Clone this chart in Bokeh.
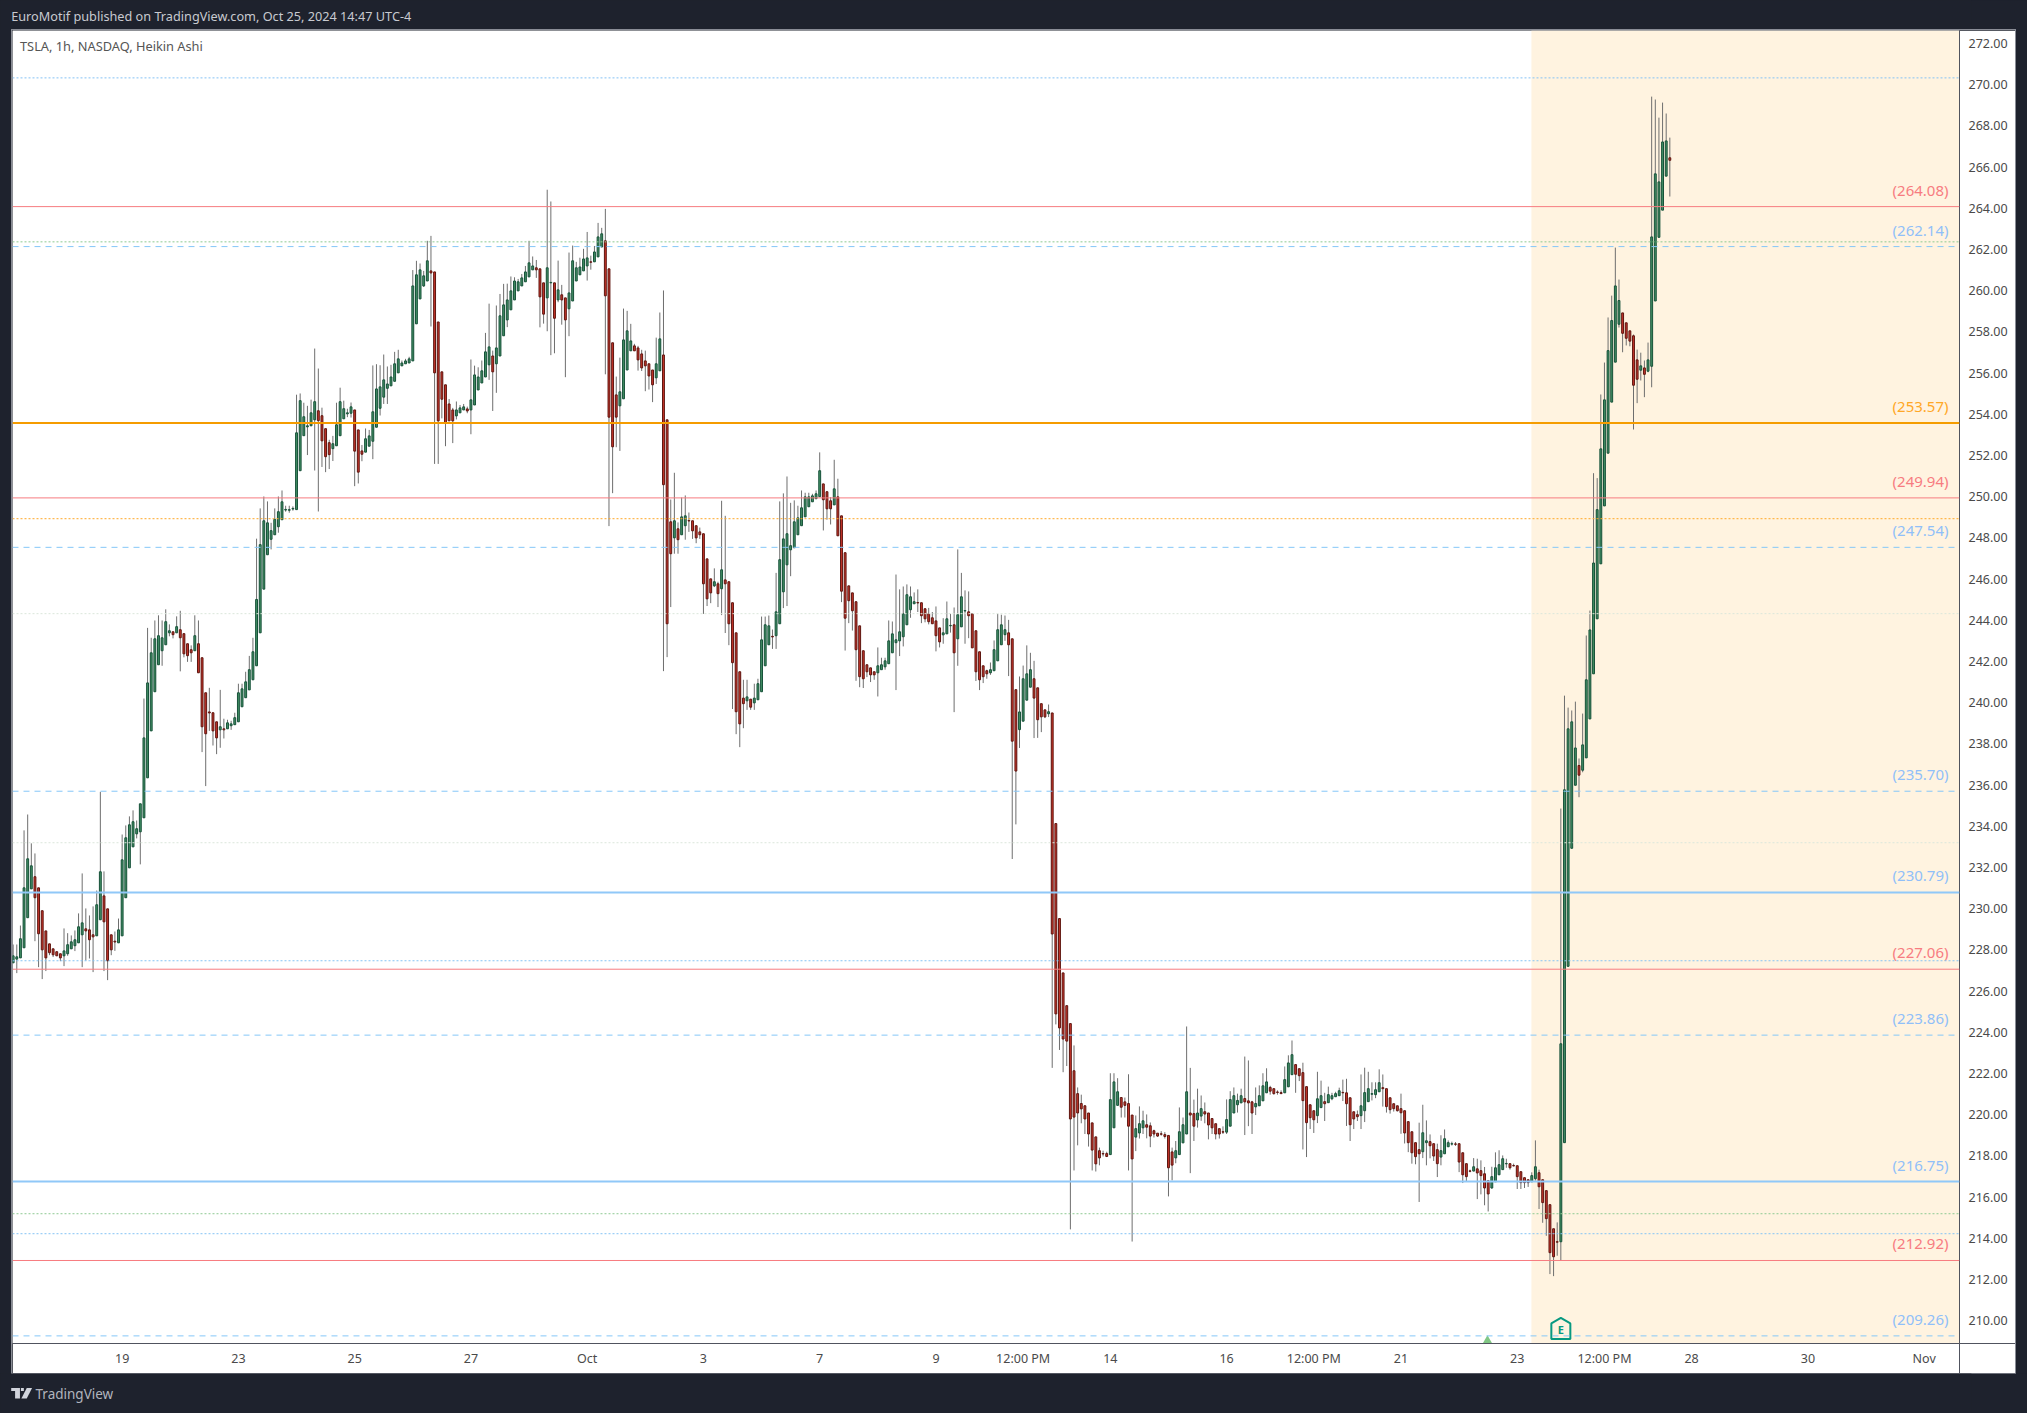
from bokeh.plotting import figure
from bokeh.layouts import column
from bokeh.models import (ColumnDataSource, Range1d, FixedTicker, NumeralTickFormatter, Span, Label,
                          BoxAnnotation)
from bokeh.embed import file_html
from bokeh.resources import INLINE

opens = [
227.37,227.55,227.61,228.10,229.56,230.96,231.55,231.01,229.90,228.92,
228.29,228.05,227.91,227.81,227.71,227.81,228.05,228.20,228.34,228.73,
229.02,228.97,228.73,228.68,229.46,230.62,229.99,228.73,228.42,228.34,
228.68,230.53,231.98,233.00,233.63,233.73,234.41,236.35,238.63,240.53,
241.84,242.52,242.81,243.39,243.44,243.39,243.54,243.35,242.86,242.57,
242.52,242.86,242.18,240.48,239.55,239.51,239.07,238.68,238.73,238.73,
238.88,238.93,239.07,239.80,240.24,240.62,241.11,241.79,243.39,245.51,
247.18,247.93,248.15,248.54,248.88,249.35,249.34,249.40,249.37,251.26,
252.96,253.39,253.44,253.73,254.17,253.93,253.30,252.62,252.33,252.47,
252.96,253.78,254.02,254.05,254.21,253.24,252.22,252.16,252.45,252.69,
253.37,254.29,254.83,255.26,255.38,255.60,256.01,256.35,256.45,256.49,
256.59,258.39,259.60,260.23,260.47,260.96,260.91,258.48,256.06,255.43,
254.50,254.21,253.92,254.07,254.21,254.26,254.21,254.45,255.18,255.52,
255.81,256.40,256.83,256.45,256.83,257.81,258.58,259.07,259.55,259.99,
260.23,260.43,260.67,261.01,261.11,261.06,260.38,259.65,260.38,260.38,
259.55,259.80,259.65,259.12,259.50,260.47,260.77,260.96,261.20,261.40,
261.40,261.64,262.12,262.42,261.06,257.47,254.94,254.41,254.75,256.15,
257.08,257.32,257.22,256.93,256.59,256.45,256.15,255.77,256.11,256.88,
253.73,248.78,248.00,248.44,248.15,248.59,248.84,248.83,248.59,248.29,
248.20,246.98,246.01,245.67,245.77,245.53,245.96,245.87,244.85,243.39,
241.50,240.22,240.09,240.17,239.99,240.14,240.53,241.79,242.81,243.22,
243.25,243.83,245.38,246.69,247.42,247.52,248.15,248.59,249.02,249.51,
249.75,249.90,250.00,250.62,250.24,249.80,249.60,249.99,249.07,247.28,
245.67,245.33,244.90,243.73,242.52,241.84,241.69,241.50,241.45,241.60,
241.74,241.89,242.42,242.91,243.00,243.20,243.78,244.51,244.80,244.86,
244.85,244.56,244.31,244.12,243.97,243.63,243.29,243.34,243.73,243.78,
243.10,243.68,244.45,244.41,244.31,243.49,242.47,241.79,241.55,241.45,
241.55,242.03,242.81,243.30,243.39,243.10,240.63,238.69,239.10,240.12,
240.75,241.16,240.72,239.95,239.65,239.46,239.50,234.13,229.52,226.88,
225.29,224.42,222.13,221.02,220.54,220.43,220.08,219.60,218.92,218.25,
218.11,218.11,218.06,219.36,220.45,220.83,220.62,220.54,219.98,218.91,
219.11,219.36,219.51,219.46,219.22,219.10,219.07,219.03,218.99,218.19,
217.90,218.06,218.63,219.06,220.08,220.05,219.74,219.93,220.14,220.08,
219.81,219.56,219.32,219.17,219.15,219.44,220.08,220.48,220.57,220.78,
220.67,220.62,220.38,220.43,220.67,221.06,221.32,221.26,221.10,221.07,
221.06,221.35,221.94,222.43,222.23,222.04,221.36,220.48,220.19,219.95,
220.34,220.63,220.58,220.77,220.87,220.92,221.08,221.06,220.82,220.14,
220.00,219.95,220.19,220.63,220.99,220.97,221.11,221.31,221.26,220.82,
220.53,220.43,220.29,220.19,219.66,219.17,218.64,218.30,218.20,218.64,
218.69,218.59,218.30,217.94,218.10,218.44,218.57,218.58,218.59,218.15,
217.62,217.27,217.26,217.37,217.28,217.13,216.79,216.44,216.74,217.08,
217.33,217.61,217.62,217.53,217.52,217.23,216.94,216.84,216.74,216.89,
217.18,216.84,216.31,215.63,214.46,213.83,213.83,218.64,227.20,232.93,
235.99,236.95,236.72,237.32,239.21,241.40,244.07,246.74,249.55,252.11,
254.59,256.53,258.37,258.92,258.44,258.05,257.81,256.64,256.14,256.25,
256.09,256.33,259.50,262.59,263.91,265.56,266.45]

closes = [
227.71,227.66,228.54,231.01,232.42,232.08,230.53,228.78,228.00,227.61,
227.86,227.76,227.71,227.61,227.95,228.25,228.39,228.49,229.12,229.31,
228.92,228.49,228.63,230.19,231.79,229.36,227.47,228.00,228.38,228.97,
232.37,233.44,234.07,234.22,233.88,235.09,238.29,240.96,242.42,243.10,
243.25,243.15,243.93,243.49,243.30,243.69,243.15,242.37,242.28,242.42,
243.25,241.45,238.83,238.49,239.50,238.63,238.29,238.83,238.68,239.02,
238.97,239.27,240.48,240.67,241.01,241.60,242.47,245.01,247.67,248.83,
248.73,248.35,248.90,249.27,249.75,249.38,249.37,249.43,253.10,254.66,
253.88,253.44,254.07,254.61,253.69,252.71,251.94,252.04,252.57,253.49,
254.61,254.27,254.07,254.36,252.21,251.19,252.06,252.81,252.95,254.12,
255.23,255.33,255.67,255.47,255.81,256.45,256.69,256.49,256.59,256.69,
260.23,260.77,261.01,260.72,261.45,260.86,256.01,253.68,254.73,253.58,
253.68,253.68,254.21,254.31,254.36,254.16,254.70,255.91,255.81,256.11,
257.03,257.27,256.06,257.22,258.78,259.31,259.55,259.99,260.47,260.43,
260.62,260.91,261.35,261.20,261.01,259.70,258.86,261.11,260.40,258.66,
260.04,259.55,258.58,259.89,261.45,261.11,261.15,261.54,261.59,261.38,
261.88,262.61,262.76,259.75,253.86,252.42,253.86,255.09,257.61,258.05,
257.56,257.08,256.64,256.25,256.35,255.86,255.43,256.45,257.66,250.58,
243.83,247.23,248.83,247.91,249.02,249.07,248.82,248.34,248.00,248.15,
245.77,245.04,245.33,245.87,245.29,246.45,245.77,243.83,241.94,239.56,
238.97,239.95,240.28,239.78,240.22,240.92,243.05,243.78,243.73,243.19,
244.41,246.94,247.95,248.20,247.62,248.78,248.97,249.46,249.99,249.99,
250.04,250.14,251.26,249.85,249.41,249.41,250.38,248.10,245.41,244.10,
244.95,244.46,242.57,241.26,241.16,241.50,241.35,241.35,241.79,241.84,
242.03,243.00,243.34,243.05,243.44,244.31,245.24,245.14,244.90,244.84,
244.22,244.07,243.93,243.83,243.25,242.95,243.39,244.07,243.75,242.42,
244.27,245.14,244.47,244.22,242.66,241.50,241.11,241.26,241.40,241.60,
242.57,243.54,243.78,243.54,242.81,238.13,236.68,239.55,241.16,241.40,
241.60,240.22,239.17,239.31,239.31,239.56,228.77,224.89,224.21,223.67,
223.57,219.79,219.88,220.08,220.28,219.79,219.06,218.28,217.61,217.90,
218.09,217.97,220.73,221.59,221.11,220.36,220.45,219.44,217.85,219.32,
219.56,219.70,219.39,218.96,219.06,218.96,219.05,218.94,217.42,217.55,
218.25,219.17,219.51,221.11,219.98,219.44,220.08,220.29,220.03,219.50,
219.36,219.06,219.06,219.15,219.76,220.73,220.92,220.69,220.92,220.62,
220.57,220.08,220.54,220.92,221.40,221.59,221.14,221.02,221.08,221.02,
221.70,222.51,222.91,221.96,221.89,220.68,219.61,219.85,219.75,220.77,
220.92,220.53,220.97,220.92,221.02,221.16,221.06,220.53,219.51,219.79,
219.90,220.43,221.07,221.26,221.02,221.21,221.55,221.26,220.39,220.24,
220.29,220.19,220.09,219.11,218.64,218.15,217.96,218.10,219.12,218.73,
218.49,217.99,217.62,218.25,218.83,218.64,218.59,218.56,217.70,217.08,
216.99,217.25,217.47,217.17,217.04,216.44,216.15,216.99,217.42,217.57,
217.86,217.63,217.42,217.51,216.99,216.70,216.70,216.70,217.04,217.47,
216.50,215.73,214.95,213.30,213.10,213.81,223.44,235.77,238.73,239.07,
237.80,236.48,237.95,241.11,243.53,246.78,249.37,252.32,254.70,257.09,
258.55,260.23,259.52,257.93,257.69,257.55,255.41,255.70,256.35,255.94,
256.64,262.61,265.67,265.28,267.22,267.27,266.33]

highs = [
228.26,228.26,229.18,233.80,234.57,233.17,232.68,231.01,229.90,228.92,
228.29,228.05,227.91,227.81,229.04,228.81,228.70,228.94,229.77,231.71,
230.01,229.67,230.11,230.88,235.67,231.81,229.99,228.73,228.89,229.52,
233.60,234.04,234.48,234.77,234.28,235.09,240.20,243.63,243.15,243.99,
244.24,243.99,244.53,243.80,243.44,244.19,244.46,243.35,242.86,242.78,
244.24,243.99,242.18,240.48,240.72,239.51,239.07,240.62,239.22,239.17,
239.12,239.51,240.92,240.92,241.50,242.27,243.15,247.96,249.43,250.01,
249.77,248.73,249.43,250.01,250.30,249.56,249.56,249.53,254.95,255.01,
254.56,254.41,254.71,257.19,256.22,254.32,253.30,252.76,252.95,254.56,
255.29,254.66,254.27,254.57,254.21,253.24,252.51,253.31,253.24,256.37,
256.43,256.38,256.90,256.32,256.40,257.03,257.13,256.61,256.69,256.79,
261.00,261.45,261.32,260.96,262.42,262.66,260.91,258.48,256.06,255.43,
254.74,254.31,254.62,254.45,254.50,254.37,256.66,256.36,256.28,256.61,
257.95,259.37,257.09,259.28,259.84,260.33,260.34,260.69,260.65,260.57,
260.81,261.20,262.42,261.66,261.49,261.06,260.38,264.90,264.33,260.38,
261.46,260.28,259.65,261.85,262.19,261.40,261.60,262.03,262.85,261.70,
262.17,263.29,263.05,263.97,261.06,257.47,255.83,256.75,259.13,259.02,
258.39,257.42,257.32,257.13,257.09,256.45,256.15,257.72,258.94,260.01,
253.73,249.86,251.16,248.75,249.96,250.06,249.23,248.83,248.59,248.50,
248.20,246.98,246.01,246.52,245.87,249.80,249.07,245.87,244.85,243.39,
241.50,241.11,241.11,240.17,240.92,241.16,244.18,244.18,244.23,243.55,
246.30,249.77,250.16,250.98,249.70,249.82,249.56,250.30,250.19,250.19,
250.14,250.30,252.15,250.62,250.24,249.98,251.79,250.87,249.07,247.28,
245.67,245.33,244.90,243.73,242.52,241.84,241.69,241.50,242.68,242.18,
242.18,243.99,243.94,246.22,245.50,245.64,245.74,245.64,245.35,245.50,
244.85,244.56,244.60,244.40,244.67,243.63,244.10,244.91,244.31,244.62,
247.44,246.30,245.45,245.40,244.31,243.49,242.47,241.79,241.60,241.95,
243.02,244.31,244.27,244.23,244.02,243.10,240.63,241.27,241.80,242.78,
242.42,242.03,240.72,239.95,239.65,239.91,239.50,234.13,229.52,226.88,
225.29,224.42,223.36,221.32,220.97,220.45,220.08,219.60,218.92,218.40,
218.25,218.20,222.01,222.01,221.77,220.83,220.83,221.96,219.98,219.96,
220.40,220.19,220.01,219.62,219.27,219.10,219.20,219.15,218.99,218.40,
218.72,220.35,219.86,224.28,222.27,220.73,221.26,220.93,220.59,220.08,
219.81,219.56,219.32,219.43,220.74,221.14,221.32,221.02,221.26,222.82,
222.63,220.67,221.32,221.42,222.01,222.25,221.40,221.26,221.18,221.18,
222.34,222.88,223.60,222.43,222.23,222.52,221.36,220.48,220.19,222.08,
221.65,221.06,221.36,221.06,221.11,221.31,221.70,221.74,220.82,220.14,
220.20,221.95,222.28,222.08,221.57,221.57,222.20,221.95,221.26,220.82,
220.53,220.43,221.02,220.19,219.66,219.17,218.64,219.61,220.48,219.72,
219.04,218.59,218.59,219.00,219.28,218.75,218.69,218.67,218.59,218.15,
217.62,217.33,217.89,217.86,217.78,217.46,216.79,217.47,218.17,218.27,
218.02,217.86,217.62,217.62,217.52,217.23,216.94,216.84,217.20,218.75,
217.33,216.84,216.31,215.63,214.46,214.77,234.86,240.34,239.76,239.62,
240.05,237.29,239.47,243.26,244.47,251.14,250.90,254.96,256.51,258.70,
259.76,262.09,260.54,258.92,258.44,258.05,257.87,257.14,256.99,256.61,
257.48,269.42,269.28,268.40,269.13,268.60,267.43]

lows = [
227.37,226.87,227.61,228.10,229.56,230.96,228.42,227.16,226.58,226.97,
227.74,227.65,227.71,227.45,227.21,227.71,228.05,227.94,228.34,227.16,
227.48,227.58,226.92,228.68,229.46,226.97,226.53,227.74,227.95,228.34,
228.68,230.53,231.98,233.00,233.41,232.15,234.41,236.35,238.63,240.53,
241.84,241.79,242.81,243.22,243.12,243.39,241.52,242.20,241.98,241.98,
242.52,241.45,237.60,235.95,238.63,237.92,237.50,237.81,238.26,238.73,
238.68,238.93,239.07,239.80,240.24,240.62,241.11,241.79,243.39,245.51,
247.18,247.44,248.15,248.25,248.88,249.27,249.22,249.32,249.37,251.26,
252.96,252.02,253.44,251.27,249.28,251.44,251.19,251.34,251.73,252.47,
252.96,253.78,253.86,253.84,250.51,250.64,251.72,252.16,252.45,251.82,
253.37,253.94,254.50,254.50,255.38,255.60,256.01,256.35,256.45,256.49,
256.59,258.39,259.60,260.18,260.47,258.26,251.59,251.59,253.80,252.45,
253.68,252.60,253.75,254.07,254.21,254.05,253.03,254.45,255.18,255.52,
255.81,255.67,254.16,255.04,256.83,257.81,258.23,259.07,259.55,259.99,
260.23,260.43,260.67,261.01,260.62,258.22,258.40,258.03,256.87,256.96,
259.44,258.35,255.80,257.79,259.50,260.47,260.77,260.96,260.49,261.02,
261.40,261.64,262.12,255.94,248.57,250.17,252.40,252.22,254.75,256.15,
257.08,257.08,256.12,256.10,255.12,255.20,254.59,255.47,256.11,241.53,
242.21,244.64,247.23,247.23,248.15,247.91,248.29,247.95,247.74,247.95,
244.31,244.69,244.83,245.61,244.64,244.25,243.38,242.79,239.69,238.47,
237.84,238.76,239.65,239.65,239.65,240.14,240.53,241.79,242.81,242.61,
242.61,243.83,244.59,244.69,246.14,247.52,248.15,248.59,249.02,249.51,
249.75,249.90,250.00,248.36,248.88,248.65,249.60,248.10,244.88,242.53,
243.86,243.50,241.06,240.75,240.71,241.24,241.00,241.11,240.30,241.60,
241.60,241.89,242.42,240.61,242.26,242.73,243.78,244.12,244.80,244.40,
243.86,243.90,243.80,243.83,242.49,242.68,242.86,243.34,243.40,239.54,
241.79,243.68,242.86,243.13,242.66,241.05,240.61,240.95,241.16,241.35,
241.55,242.03,242.81,243.00,241.29,232.41,234.09,237.80,239.10,240.12,
240.75,238.28,238.29,238.57,239.25,239.30,222.27,224.38,223.14,222.06,
222.36,214.43,217.29,218.51,219.58,219.06,218.45,217.29,217.24,217.54,
217.97,217.94,218.06,219.36,220.45,219.86,219.86,217.29,213.84,218.23,
218.84,219.06,218.85,218.42,218.89,218.92,218.98,218.84,216.03,216.81,
217.64,218.06,218.63,219.06,217.16,218.72,219.37,219.70,219.58,218.80,
219.06,218.80,218.84,219.06,219.06,219.44,220.08,220.10,220.57,219.01,
219.44,219.06,219.98,220.43,220.67,221.06,220.97,220.97,220.97,221.00,
221.06,221.35,221.94,221.06,221.63,218.31,217.94,219.30,219.11,219.59,
220.34,219.69,220.58,220.70,220.87,220.92,220.66,219.45,218.72,219.30,
219.69,219.30,219.64,220.63,220.69,220.80,221.11,220.39,220.10,220.05,
220.15,220.15,219.07,218.60,218.18,217.62,217.59,215.76,217.89,217.54,
217.88,217.75,216.97,217.54,218.10,218.44,218.50,218.48,217.21,216.68,
216.73,217.20,217.26,215.90,216.13,215.60,215.30,216.40,216.74,217.08,
217.33,217.42,217.33,217.49,216.39,216.39,216.44,216.49,216.74,216.80,
215.42,214.75,214.12,212.26,212.16,213.15,212.91,218.64,227.20,232.93,
235.99,235.41,236.62,237.32,239.21,241.40,244.07,246.74,249.55,252.11,
254.59,256.53,258.21,257.01,257.34,257.30,253.26,254.54,255.64,254.83,
256.04,255.31,259.50,262.59,263.91,265.56,264.57]

price_ticks = list(range(210, 274, 2))
time_ticks = [30, 62, 94, 126, 158, 190, 222, 254, 278, 302, 334, 358, 382, 414, 438, 462, 494, 526]
time_labels = ["19", "23", "25", "27", "Oct", "3", "7", "9", "12:00 PM", "14", "16", "12:00 PM", "21", "23", "12:00 PM", "28", "30", "Nov"]

red_levels = [264.08, 249.94, 227.06, 212.92]
orange_levels = [253.57]
blue_solid_levels = [230.79, 216.75]
blue_dashed_levels = [262.14, 247.54, 235.70, 223.86, 209.26]
blue_dotted_levels = [270.33, 227.47, 214.22]
green_dotted_levels = [262.37, 215.19]
pale_dotted_levels = [244.32, 233.20]
orange_dotted_levels = [248.93]

labelled_levels = [264.08, 262.14, 253.57, 249.94, 247.54, 235.70, 230.79, 227.06, 223.86, 216.75, 212.92, 209.26]
label_kinds = ["r", "b", "o", "r", "b", "b", "b", "r", "b", "b", "r", "b"]

session_start = 418
earnings_bar = 426
event_marker = (405.8, 209.04)

FONT = "Noto Sans"
DARK = "#1e222d"
KIND_COLOR = {"r": "#f77c80", "b": "#90bff9", "o": "#ffa726"}
FRAME_W, FRAME_H = 1947, 1313
X_START, X_END = -0.18, 535.73
Y_START, Y_END = 208.89, 272.63
PX_PER_BAR = FRAME_W / (X_END - X_START)
PX_PER_USD = FRAME_H / (Y_END - Y_START)


def strip_figure(height):
    f = figure(width=2027, height=height, output_backend="svg", toolbar_location=None,
               x_range=Range1d(0, 2027), y_range=Range1d(height, 0),
               min_border=0, border_fill_color=DARK, background_fill_color=DARK, outline_line_color=None)
    f.axis.visible = False
    f.grid.visible = False
    return f


# header strip
header = strip_figure(30)
header.add_layout(Label(x=11, y=15.5, text="EuroMotif published on TradingView.com, Oct 25, 2024 14:47 UTC-4",
                        text_font=FONT, text_font_size="12.7px", text_color="#c8cad0", text_align="left", text_baseline="middle"))

# main chart
p = figure(width=2003, height=1343, output_backend="svg", toolbar_location=None,
           x_range=Range1d(X_START, X_END), y_range=Range1d(Y_START, Y_END),
           y_axis_location="right", min_border_left=0, min_border_right=56,
           min_border_top=0, min_border_bottom=30, frame_width=FRAME_W, frame_height=FRAME_H,
           border_fill_color="white", background_fill_color="white", outline_line_color=None)
p.margin = (0, 12, 0, 12)
p.styles = {"outline": "1px solid #8a8d96"}
p.grid.visible = False
p.add_layout(BoxAnnotation(left=session_start - 0.1, fill_color="#fff3e0", fill_alpha=1, line_color=None, level="underlay"))

p.yaxis.ticker = FixedTicker(ticks=price_ticks, minor_ticks=[Y_START + 0.01])
p.yaxis.formatter = NumeralTickFormatter(format="0.00")
p.yaxis.major_label_text_font = FONT
p.yaxis.major_label_text_font_size = "12.5px"
p.yaxis.major_label_text_color = "#4a4a4a"
p.yaxis.major_label_standoff = 9 - 56
p.yaxis.major_tick_line_color = None
p.yaxis.major_tick_out = 0
p.yaxis.minor_tick_line_color = "#50535e"
p.yaxis.minor_tick_in = 0
p.yaxis.minor_tick_out = 56
p.yaxis.axis_line_color = "#50535e"
p.xaxis.ticker = FixedTicker(ticks=time_ticks, minor_ticks=[X_END - 0.01])
p.xaxis.major_label_overrides = dict(zip(time_ticks, time_labels))
p.xaxis.major_label_text_font = FONT
p.xaxis.major_label_text_font_size = "12.5px"
p.xaxis.major_label_text_color = "#4a4a4a"
p.xaxis.major_label_standoff = 6 - 30
p.xaxis.major_tick_line_color = None
p.xaxis.major_tick_out = 0
p.xaxis.minor_tick_line_color = "#50535e"
p.xaxis.minor_tick_in = 0
p.xaxis.minor_tick_out = 30
p.xaxis.axis_line_color = "#50535e"

# candles
idx = list(range(len(opens)))
source = ColumnDataSource(dict(
    x=idx,
    top=[max(a, b) for a, b in zip(opens, closes)],
    bottom=[min(a, b) for a, b in zip(opens, closes)],
    high=highs,
    low=lows,
    fill=["#438f64" if c >= o else "#c8352a" for o, c in zip(opens, closes)],
    edge=["#17523a" if c >= o else "#5e1610" for o, c in zip(opens, closes)],
))
p.segment("x", "high", "x", "low", source=source, line_color="#6e6e6e", line_width=1)
p.vbar(x="x", width=0.52, top="top", bottom="bottom", source=source,
       fill_color="fill", line_color="edge", line_width=1)


def levels(values, color, width=1, dash="solid"):
    for v in values:
        p.add_layout(Span(location=v, dimension="width", line_color=color, line_width=width,
                          line_dash=dash, level="overlay"))


levels(red_levels, "#f77c80")
levels(orange_levels, "#f59c00", 2)
levels(blue_solid_levels, "#90c8f8", 2)
levels(blue_dashed_levels, "#85c7f8", 1, "6 5")
levels(blue_dotted_levels, "#85c3f5", 1, "2 2")
levels(green_dotted_levels, "#8fca92", 1, "2 2")
levels(pale_dotted_levels, "#dbe6db", 1, "2 2")
levels(orange_dotted_levels, "#ffa726", 1, "2 2")

for lv, kind in zip(labelled_levels, label_kinds):
    p.add_layout(Label(x=1936, x_units="canvas", y=lv, y_units="data", y_offset=17,
                       text="(%.2f)" % lv, text_font=FONT, text_font_size="15px", text_color=KIND_COLOR[kind],
                       text_align="right", text_baseline="middle"))

p.add_layout(Label(x=7.5, x_units="canvas", y=15.5, y_units="canvas", text="TSLA, 1h, NASDAQ, Heikin Ashi",
                   text_font=FONT, text_font_size="12.8px", text_color="#555555", text_align="left", text_baseline="middle"))

# earnings flag: a small house shape anchored on its bar at the foot of the chart
flag_dx = [0, 9.5, 9.5, -9.5, -9.5]
flag_dy = [0, 5.5, 21, 21, 5.5]
flag_top = 272 - (1317.5 - 43) / 20.6
p.patch([earnings_bar + d / PX_PER_BAR for d in flag_dx], [flag_top - d / PX_PER_USD for d in flag_dy],
        fill_color="#fff3e0", line_color="#089981", line_width=2, level="overlay")
p.add_layout(Label(x=earnings_bar, y=flag_top - 11.5 / PX_PER_USD, text="E", text_font=FONT, text_font_size="11px",
                   text_font_style="bold", text_color="#089981", text_align="center", text_baseline="middle", level="overlay"))
p.scatter([event_marker[0]], [event_marker[1]], marker="triangle", size=9, fill_color="#81c784", line_color=None)

# footer strip with logo
footer = strip_figure(40)
LOGO = "#d1d4dc"
footer.quad(left=[11, 15], right=[20, 20], top=[14.5, 17.5], bottom=[17.5, 25], fill_color=LOGO, line_color=None)
footer.quad(left=[21], right=[24], top=[14.5], bottom=[17.5], fill_color=LOGO, line_color=None)
footer.patch([27, 32.5, 27, 21.5], [14.5, 14.5, 25, 25], fill_color=LOGO, line_color=None)
footer.add_layout(Label(x=36, y=20.5, text="TradingView", text_font=FONT, text_font_size="13.5px",
                        text_color="#b2b5be", text_align="left", text_baseline="middle"))

page = column(header, p, footer, spacing=0)
html = file_html(page, INLINE)
html = html.replace("</head>", "<style>html,body{background:%s}</style></head>" % DARK, 1)
open("out.html", "w").write(html)
